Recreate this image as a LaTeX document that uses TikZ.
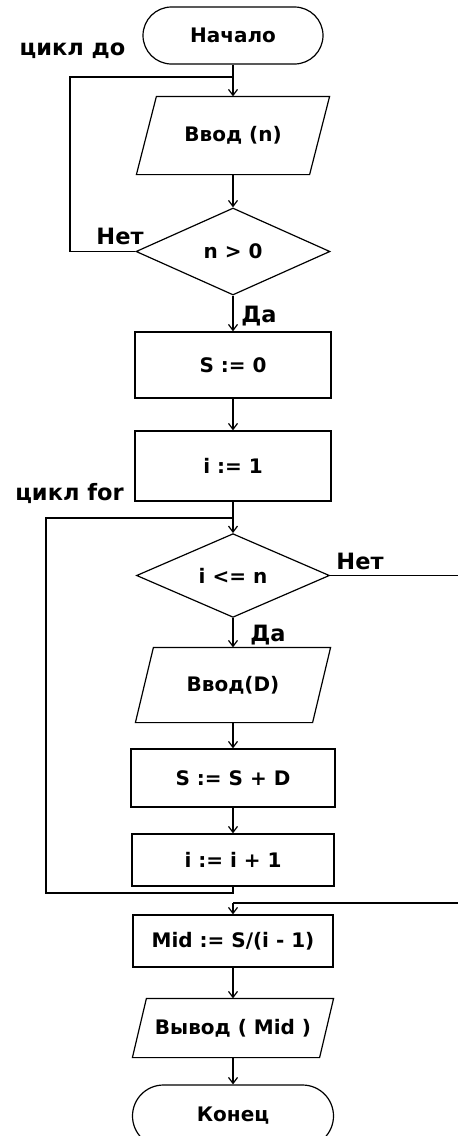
\documentclass[tikz,border=0pt]{standalone}
\usepackage{fontspec}
\setmainfont{DejaVu Sans}
\usetikzlibrary{shapes.geometric,shapes.misc,arrows.meta,calc}
\tikzset{
  base/.style={draw=black, line width=1.2pt, inner sep=0pt, align=center,
    font=\fontsize{20}{23}\selectfont\bfseries},
  term/.style={base, rounded rectangle},
  proc/.style={base, rectangle},
  dec/.style={base, diamond},
  iobox/.style={base, draw=none, rectangle},
  lbl/.style={inner sep=0pt, font=\fontsize{22.5}{25}\selectfont\bfseries},
  conn/.style={line width=1.2pt, draw=black},
  arr/.style={conn, -{Straight Barb[length=6pt,width=9pt,line width=1.2pt]}}
}
\newcommand{\iopath}[2]{%
  \draw[line width=1.2pt] ($(#1.north west)+(#2,0)$) -- ($(#1.north east)+(#2,0)$)
    -- ($(#1.south east)-(#2,0)$) -- ($(#1.south west)-(#2,0)$) -- cycle;}
\begin{document}
\begin{tikzpicture}[x=1pt,y=-1pt]
\useasboundingbox (0,0) rectangle (458,1136);
\fill[white] (0,0) rectangle (458,1136);
\clip (0,0) rectangle (458,1136);

% nodes
\node[term, minimum width=180pt, minimum height=57pt] (start) at (233,35.5) {Начало};
\node[iobox, minimum width=172pt, minimum height=77pt] (in1) at (233,135.5) {Ввод (n)};
\iopath{in1}{10}
\node[dec, minimum width=194pt, minimum height=87pt] (c1) at (233,251.5) {n > 0};
\node[proc, minimum width=196pt, minimum height=66pt] (s0) at (233,365) {S := 0};
\node[proc, minimum width=196pt, minimum height=70pt] (i1) at (233,466) {i := 1};
\node[dec, minimum width=193pt, minimum height=79pt] (c2) at (233,575.5) {i <= n};
\node[iobox, minimum width=176pt, minimum height=74pt] (in2) at (233,685) {Ввод(D)};
\iopath{in2}{9}
\node[proc, minimum width=204pt, minimum height=58pt] (sum) at (233,778) {S := S + D};
\node[proc, minimum width=202pt, minimum height=52pt] (inc) at (233,860) {i := i + 1};
\node[proc, minimum width=200pt, minimum height=52pt] (mid) at (233,941) {Mid := S/(i - 1)};
\node[iobox, minimum width=186pt, minimum height=58pt] (out) at (233,1028) {Вывод ( Mid )};
\iopath{out}{7}
\node[term, minimum width=201pt, minimum height=62pt] (end) at (233,1116) {Конец};

% labels
\node[lbl] (lcdo) at (72.5,51) {цикл до};
\node[lbl] (lno1) at (120,236) {Нет};
\node[lbl] (lyes1) at (259,316) {Да};
\node[lbl] (lfor) at (69.5,493) {цикл for};
\node[lbl] (lno2) at (360,561) {Нет};
\node[lbl] (lyes2) at (268,635) {Да};

% coordinates
\coordinate (j1) at (233,77);
\coordinate (l1) at (70,77);
\coordinate (j2) at (233,518);
\coordinate (l2) at (46,518);
\coordinate (b2) at (233,893);
\coordinate (r1) at (460,575.5);
\coordinate (r2) at (460,903);
\coordinate (j3) at (233,903);

% connectors
\draw[arr] (start.south) -- (in1.north);
\draw[arr] (in1.south) -- (c1.north);
\draw[conn] (c1.west) -| (l1) -- (j1);
\draw[arr] (c1.south) -- (s0.north);
\draw[arr] (s0.south) -- (i1.north);
\draw[arr] (i1.south) -- (c2.north);
\draw[conn] (inc.south) -- (b2) -| (l2) -- (j2);
\draw[conn] (c2.east) -- (r1);
\draw[arr] (c2.south) -- (in2.north);
\draw[arr] (in2.south) -- (sum.north);
\draw[arr] (sum.south) -- (inc.north);
\draw[conn] (r2) -- (j3);
\draw[arr] (j3) -- (mid.north);
\draw[arr] (mid.south) -- (out.north);
\draw[arr] (out.south) -- (end.north);
\end{tikzpicture}
\end{document}
